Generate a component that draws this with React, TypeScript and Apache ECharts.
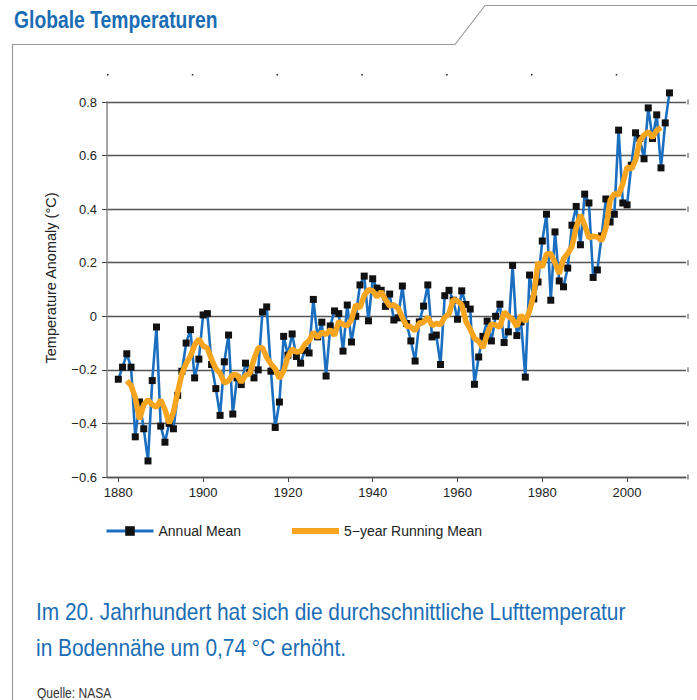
import React, { useEffect, useRef } from "react";
import * as echarts from "echarts";

// ---------- data ----------
const firstYear = 1880;
// NASA annual mean temperature anomaly (°C), 1880–2010
const annualMean = [
  -0.235, -0.19, -0.14, -0.19, -0.45, -0.32, -0.42, -0.54, -0.24, -0.04, // 1880s
  -0.41, -0.47, -0.40, -0.42, -0.295, -0.205, -0.10, -0.05, -0.23, -0.16, // 1890s
  0.005, 0.01, -0.18, -0.27, -0.37, -0.17, -0.07, -0.365, -0.23, -0.255, // 1900s
  -0.175, -0.21, -0.23, -0.20, 0.016, 0.035, -0.205, -0.415, -0.32, -0.075, // 1910s
  -0.145, -0.066, -0.15, -0.175, -0.127, -0.137, 0.063, -0.077, -0.022, -0.223, // 1920s
  -0.036, 0.02, 0.01, -0.13, 0.042, -0.096, 0.0, 0.117, 0.15, -0.017, // 1930s
  0.14, 0.105, 0.097, 0.037, 0.083, -0.014, -0.006, 0.113, -0.027, -0.092, // 1940s
  -0.167, -0.021, 0.038, 0.117, -0.077, -0.07, -0.18, 0.077, 0.097, 0.06, // 1950s
  -0.011, 0.095, 0.044, 0.027, -0.254, -0.152, -0.075, -0.018, -0.092, 0.0, // 1960s
  0.045, -0.098, -0.058, 0.19, -0.072, -0.021, -0.227, 0.154, 0.065, 0.128, // 1970s
  0.281, 0.381, 0.06, 0.315, 0.132, 0.11, 0.18, 0.34, 0.41, 0.267, // 1980s
  0.456, 0.423, 0.145, 0.173, 0.30, 0.438, 0.352, 0.381, 0.695, 0.423, // 1990s
  0.416, 0.564, 0.685, 0.664, 0.588, 0.778, 0.664, 0.752, 0.554, 0.722, // 2000s
  0.834, // 2010
];

const runningFirstYear = 1882;
// 5-year running mean (°C), 1882–2008
const runningMean = [
  -0.241, -0.258, -0.304, -0.384, -0.33, -0.312, -0.33, -0.34, // 1882–1889
  -0.312, -0.348, -0.399, -0.358, -0.284, -0.214, -0.176, -0.149, -0.107, -0.085, // 1890s
  -0.111, -0.119, -0.161, -0.196, -0.212, -0.249, -0.241, -0.218, -0.219, -0.247, // 1900s
  -0.22, -0.214, -0.16, -0.118, -0.117, -0.154, -0.178, -0.196, -0.232, -0.204, // 1910s
  -0.151, -0.122, -0.133, -0.131, -0.105, -0.091, -0.06, -0.079, -0.059, -0.068, // 1920s
  -0.05, -0.072, -0.019, -0.031, -0.035, -0.013, 0.043, 0.031, 0.078, 0.099, // 1930s
  0.095, 0.072, 0.092, 0.062, 0.039, 0.043, 0.03, -0.005, -0.036, -0.039, // 1940s
  -0.054, -0.025, -0.022, -0.003, -0.034, -0.027, -0.031, -0.003, 0.009, 0.064, // 1950s
  0.057, 0.043, -0.02, -0.048, -0.082, -0.094, -0.118, -0.067, -0.028, -0.033, // 1960s
  -0.041, 0.016, 0.001, -0.012, -0.038, 0.005, -0.02, 0.02, 0.08, 0.202, // 1970s
  0.183, 0.233, 0.234, 0.20, 0.159, 0.215, 0.234, 0.261, 0.331, 0.379, // 1980s
  0.34, 0.293, 0.299, 0.296, 0.282, 0.329, 0.433, 0.458, 0.453, 0.496, // 1990s
  0.557, 0.55, 0.583, 0.656, 0.676, 0.689, 0.667, 0.694, 0.705, // 2000–2008
];

const xTickYears = [1880, 1900, 1920, 1940, 1960, 1980, 2000];
const topTickYears = [1877.5, 1897.5, 1917.5, 1937.5, 1957.5, 1977.5, 1997.5];
const yTicks = [-0.6, -0.4, -0.2, 0, 0.2, 0.4, 0.6, 0.8];

const seriesNames = ["Annual Mean", "5\u2212year Running Mean"];
const titleText = "Globale Temperaturen";
const yAxisTitle = "Temperature Anomaly (°C)";
const captionLines = [
  "Im 20. Jahrhundert hat sich die durchschnittliche Lufttemperatur",
  "in Bodennähe um 0,74 °C erhöht.",
];
const sourceText = "Quelle: NASA";

// ---------- styles ----------
const FONT = "'Liberation Sans Narrow','Liberation Sans',Arial,sans-serif";
const BLUE_TEXT = "#1a6db5";
const LINE_BLUE = "#1b6fc0";
const ORANGE = "#f7a51f";

export default function App() {
  const ref = useRef<HTMLDivElement>(null);

  useEffect(() => {
    if (!ref.current) return;
    const chart = echarts.init(ref.current, undefined, { renderer: "svg" });

    const annualData = annualMean.map((v, i) => [firstYear + i, v]);
    const runningData = runningMean.map((v, i) => [runningFirstYear + i, v]);

    const fmtY = (v: number) => {
      if (Math.abs(v) < 1e-9) return "0";
      return v.toFixed(1).replace("-", "\u2212");
    };

    const option: any = {
      animation: false,
      backgroundColor: "#ffffff",
      grid: { left: 107, right: 11, top: 102, bottom: 223, containLabel: false },
      xAxis: {
        type: "value",
        min: 1877.33,
        max: 2013.9,
        position: "bottom",
        axisLine: { show: true, onZero: false, lineStyle: { color: "#555", width: 1.3 } },
        axisTick: {
          show: true,
          length: 5,
          customValues: xTickYears,
          lineStyle: { color: "#444", width: 1 },
        },
        axisLabel: {
          customValues: xTickYears,
          formatter: (v: number) => String(Math.round(v)),
          fontFamily: FONT,
          fontSize: 13,
          color: "#222",
          margin: 9,
        },
        splitLine: { show: false },
      },
      yAxis: {
        type: "value",
        min: -0.6,
        max: 0.8,
        interval: 0.2,
        axisLine: { show: true, lineStyle: { color: "#8a8a8a", width: 1.5 } },
        axisTick: { show: true, length: 5, lineStyle: { color: "#444", width: 1 } },
        axisLabel: {
          formatter: fmtY,
          fontFamily: FONT,
          fontSize: 13,
          color: "#222",
          margin: 10,
        },
        splitLine: { show: true, lineStyle: { color: "#555", width: 1.4 } },
      },
      legend: {
        left: 100,
        top: 519,
        itemWidth: 47,
        itemHeight: 12,
        itemGap: 48,
        textStyle: { fontFamily: FONT, fontSize: 14, color: "#222" },
        data: [
          { name: seriesNames[0], lineStyle: { width: 3 } },
          { name: seriesNames[1], itemStyle: { opacity: 0 }, lineStyle: { width: 6 } },
        ],
      },
      series: [
        {
          name: seriesNames[0],
          type: "line",
          data: annualData,
          symbol: "rect",
          symbolSize: 7,
          clip: false,
          itemStyle: { color: "#111" },
          lineStyle: { color: LINE_BLUE, width: 2.6 },
          z: 2,
        },
        {
          name: seriesNames[1],
          type: "line",
          data: runningData,
          symbol: "none",
          showSymbol: false,
          clip: false,
          itemStyle: { color: ORANGE },
          lineStyle: { color: ORANGE, width: 5.5 },
          z: 3,
        },
      ],
      graphic: [
        {
          type: "polyline",
          shape: { points: [[12.5, 700], [12.5, 44.5], [455, 44.5], [485, 5.5], [697, 5.5]] },
          style: { stroke: "#9a9a9a", lineWidth: 1.2, fill: null },
          silent: true,
        },
        {
          type: "text",
          x: 14,
          y: 20,
          scaleX: 0.84,
          style: {
            text: titleText,
            fill: BLUE_TEXT,
            font: `bold 23px ${FONT}`,
            verticalAlign: "middle",
          },
        },
        {
          type: "text",
          x: 51,
          y: 278,
          rotation: Math.PI / 2,
          style: {
            text: yAxisTitle,
            fill: "#222",
            font: `14.5px ${FONT}`,
            align: "center",
            verticalAlign: "middle",
          },
        },
        {
          type: "text",
          x: 36,
          y: 612,
          scaleX: 0.87,
          style: {
            text: captionLines[0],
            fill: BLUE_TEXT,
            font: `24px ${FONT}`,
            verticalAlign: "middle",
          },
        },
        {
          type: "text",
          x: 36,
          y: 648,
          scaleX: 0.87,
          style: {
            text: captionLines[1],
            fill: BLUE_TEXT,
            font: `24px ${FONT}`,
            verticalAlign: "middle",
          },
        },
        {
          type: "text",
          x: 37,
          y: 693,
          scaleX: 0.86,
          style: { text: sourceText, fill: "#333", font: `14px ${FONT}`, verticalAlign: "middle" },
        },
      ],
    };

    chart.setOption(option);

    // small right-edge marks at each gridline, and the dotted top ticks
    const marks: any[] = yTicks.map((v, i) => {
      const py = chart.convertToPixel({ yAxisIndex: 0 }, v) as number;
      return {
        id: "rmark" + i,
        type: "rect",
        shape: { x: 687.5, y: py - 2.5, width: 1, height: 5 },
        style: { fill: "#444" },
        silent: true,
      };
    });
    topTickYears.forEach((yr, i) => {
      const px = chart.convertToPixel({ xAxisIndex: 0 }, yr) as number;
      marks.push({
        id: "tmark" + i,
        type: "rect",
        shape: { x: px - 0.75, y: 74, width: 1.5, height: 1.5 },
        style: { fill: "#222" },
        silent: true,
      });
    });
    chart.setOption({ graphic: marks });

    return () => chart.dispose();
  }, []);

  return (
    <div
      ref={ref}
      style={{ position: "fixed", left: 0, top: 0, width: 697, height: 700, background: "#fff" }}
    />
  );
}
